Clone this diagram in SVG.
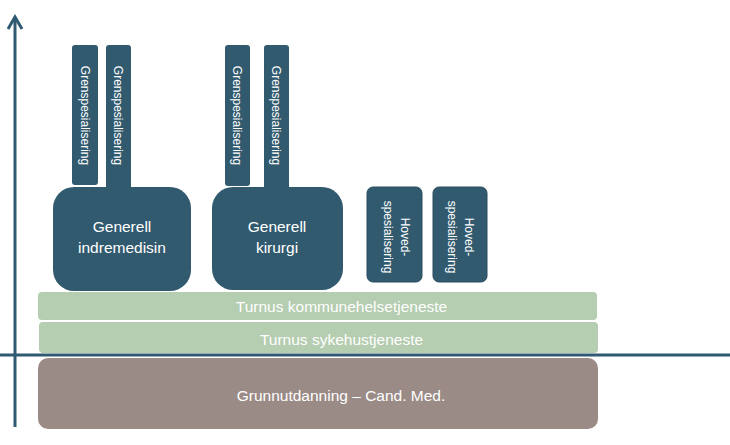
<svg xmlns="http://www.w3.org/2000/svg" width="730" height="445" viewBox="0 0 730 445">
<style>
.dark{fill:#325A6F;}
.green{fill:#B5CDB0;}
.brown{fill:#9A8B87;}
.t{font-family:"Liberation Sans",Arial,sans-serif;fill:#FFFFFF;}
.s12{font-size:12px;}
.s155{font-size:15.5px;}
.axis{stroke:#2F5A71;stroke-width:3;fill:none;}
</style>
<rect width="730" height="445" fill="#FFFFFF"/>
<g id="axes">
<line class="axis" x1="15" y1="17" x2="15" y2="427"/>
<polyline class="axis" points="8,29 15,17 22,29" stroke-linejoin="miter"/>
<line class="axis" x1="0" y1="355" x2="730" y2="355"/>
</g>
<g id="grunnutdanning">
<rect class="brown" x="38" y="358" width="560" height="71" rx="10"/>
<text class="t s155" x="341" y="401" text-anchor="middle">Grunnutdanning – Cand. Med.</text>
</g>
<g id="turnus-sykehus">
<rect class="green" x="39" y="322" width="559" height="31" rx="4"/>
<text class="t s155" x="341.5" y="345" text-anchor="middle">Turnus sykehustjeneste</text>
</g>
<g id="turnus-kommune">
<rect class="green" x="38" y="292" width="559" height="28" rx="4"/>
<text class="t s155" x="341.5" y="312" text-anchor="middle">Turnus kommunehelsetjeneste</text>
</g>
<g id="gren1">
<rect class="dark" x="72" y="45" width="26" height="140" rx="3"/>
<text class="t s12" transform="translate(80.5,115.5) rotate(90)" text-anchor="middle">Grenspesialisering</text>
</g>
<g id="gren2">
<rect class="dark" x="106" y="45" width="25" height="150" rx="3"/>
<text class="t s12" transform="translate(114,115.5) rotate(90)" text-anchor="middle">Grenspesialisering</text>
</g>
<g id="indremedisin">
<rect class="dark" x="53" y="187" width="138" height="104" rx="21"/>
<text class="t s155" x="122" y="232" text-anchor="middle">Generell</text>
<text class="t s155" x="122" y="253" text-anchor="middle">indremedisin</text>
</g>
<g id="gren3">
<rect class="dark" x="225" y="45" width="25" height="141" rx="3"/>
<text class="t s12" transform="translate(233,115.5) rotate(90)" text-anchor="middle">Grenspesialisering</text>
</g>
<g id="gren4">
<rect class="dark" x="264" y="45" width="25" height="150" rx="3"/>
<text class="t s12" transform="translate(272,115.5) rotate(90)" text-anchor="middle">Grenspesialisering</text>
</g>
<g id="kirurgi">
<rect class="dark" x="212" y="187" width="131" height="103" rx="21"/>
<text class="t s155" x="277" y="232" text-anchor="middle">Generell</text>
<text class="t s155" x="277" y="253" text-anchor="middle">kirurgi</text>
</g>
<g id="hoved1">
<rect class="dark" x="367" y="187" width="55" height="95" rx="6" stroke="#2A4C5E" stroke-width="1"/>
<text class="t s12" transform="translate(401,237) rotate(90)" text-anchor="middle">Hoved-</text>
<text class="t s12" transform="translate(383.5,237) rotate(90)" text-anchor="middle">spesialisering</text>
</g>
<g id="hoved2">
<rect class="dark" x="433" y="187" width="54" height="95" rx="6" stroke="#2A4C5E" stroke-width="1"/>
<text class="t s12" transform="translate(465,237) rotate(90)" text-anchor="middle">Hoved-</text>
<text class="t s12" transform="translate(447.5,237) rotate(90)" text-anchor="middle">spesialisering</text>
</g>
</svg>
